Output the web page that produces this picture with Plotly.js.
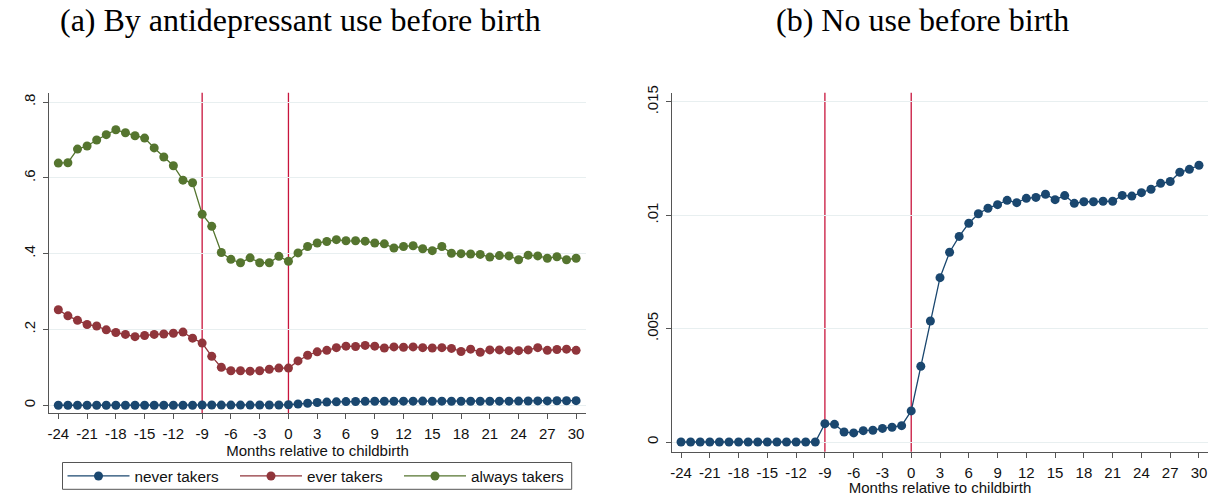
<!DOCTYPE html>
<html>
<head>
<meta charset="utf-8">
<script src="https://cdn.plot.ly/plotly-3.0.1.min.js"></script>
<style>html,body{margin:0;padding:0;background:#fff;}#chart{width:1225px;height:496px;}</style>
</head>
<body>
<div id="chart"></div>
<script>
// Months relative to childbirth
const months = [];
for (let m = -24; m <= 30; m++) months.push(m);

// Panel (a): by antidepressant use before birth
const alwaysTakers = [0.639,0.640,0.676,0.684,0.700,0.714,0.727,0.719,0.711,0.705,0.679,0.655,0.632,0.594,0.587,
  0.504,0.472,0.403,0.385,0.376,0.389,0.376,0.376,0.393,0.380,
  0.402,0.419,0.428,0.432,0.437,0.434,0.434,0.433,0.428,0.426,0.415,0.419,0.421,0.413,0.408,0.419,
  0.401,0.400,0.399,0.398,0.391,0.395,0.394,0.384,0.396,0.394,0.388,0.392,0.384,0.388];
const everTakers = [0.252,0.236,0.224,0.213,0.209,0.199,0.192,0.187,0.181,0.184,0.187,0.188,0.190,0.193,0.177,
  0.164,0.129,0.100,0.091,0.091,0.090,0.091,0.095,0.098,0.098,
  0.117,0.132,0.141,0.145,0.152,0.156,0.155,0.158,0.156,0.151,0.154,0.153,0.154,0.152,0.151,0.152,
  0.150,0.142,0.148,0.140,0.146,0.146,0.144,0.144,0.146,0.152,0.145,0.147,0.148,0.145];
// Panel (b): no use before birth (never takers)
const noUse = [0,0,0,0,0,0,0,0,0,0,0,0,0,0,0,
  0.00081,0.00078,0.00044,0.00040,0.00050,0.00052,0.00060,0.00065,0.00072,0.00137,
  0.00334,0.00534,0.00725,0.00837,0.00907,0.00965,0.01007,0.01031,0.01047,0.01066,0.01056,0.01075,0.01079,0.01093,0.01069,0.01087,
  0.01053,0.01060,0.01060,0.01062,0.01062,0.01088,0.01085,0.01100,0.01115,0.01141,0.01149,0.01190,0.01203,0.01221];
const neverTakers = noUse;

const xTicks = [-24,-21,-18,-15,-12,-9,-6,-3,0,3,6,9,12,15,18,21,24,27,30];
const xTickText = ['-24','-21','-18','-15','-12','-9','-6','-3','0','3','6','9','12','15','18','21','24','27','30'];
const yTicksA = [0,0.2,0.4,0.6,0.8];
const yTextA = ['0','.2','.4','.6','.8'];
const yTicksB = [0,0.005,0.01,0.015];
const yTextB = ['0','.005','.01','.015'];
const eventLines = [-9,0];

const NAVY='#1a476f', MAROON='#90353b', GREEN='#55752f', RED='#c8143c';

function tr(y, name, color, xa, ya, show, lg){
  return {x: months, y: y, name: name, type:'scatter', mode:'lines+markers',
    xaxis: xa, yaxis: ya, showlegend: show, legend: lg,
    line:{color: color, width:1.3}, marker:{color: color, size:9}};
}
const data = [
  tr(neverTakers,'never takers',NAVY,'x','y',true,'legend'),
  tr(everTakers,'ever takers',MAROON,'x','y',true,'legend2'),
  tr(alwaysTakers,'always takers',GREEN,'x','y',true,'legend3'),
  tr(noUse,'no use',NAVY,'x2','y2',false,'legend')
];

const tickFont = {family:'Liberation Sans, Arial, sans-serif', size:15, color:'#111'};
function xax(domain, anchor){
  return {domain: domain, anchor: anchor, range:[-24.94,31.0], tickvals: xTicks, ticktext: xTickText,
    ticks:'outside', ticklen:5, tickcolor:'#555', showline:true, linecolor:'#555', linewidth:1,
    showgrid:false, zeroline:false, tickfont: tickFont, ticklabelstandoff:2,
    title:{text:'Months relative to childbirth', font:{family:'Liberation Sans, Arial, sans-serif', size:15, color:'#111'}, standoff:0}};
}
function yax(domain, anchor, range, vals, txt){
  return {domain: domain, anchor: anchor, range: range, tickvals: vals, ticktext: txt, tickangle:-90,
    ticks:'outside', ticklen:5, tickcolor:'#555', showline:true, linecolor:'#555', linewidth:1,
    showgrid:true, gridcolor:'#e8eff0', gridwidth:1, zeroline:false, tickfont: tickFont, ticklabelstandoff:2};
}

const shapes = [];
eventLines.forEach(v => {
  shapes.push({type:'line', xref:'x', yref:'paper', x0:v, x1:v, y0:(496-413.3)/496, y1:(496-92.7)/496, line:{color:RED, width:1.3}, layer:'below'});
  shapes.push({type:'line', xref:'x2', yref:'paper', x0:v, x1:v, y0:(496-451.7)/496, y1:(496-92.7)/496, line:{color:RED, width:1.3}, layer:'below'});
});
// legend frame
shapes.push({type:'rect', xref:'paper', yref:'paper', x0:62.5/1225, x1:571.7/1225, y0:(496-489.3)/496, y1:(496-462.5)/496,
  line:{color:'#555', width:1}, fillcolor:'rgba(0,0,0,0)', layer:'above'});

const legFont = {family:'Liberation Sans, Arial, sans-serif', size:15.3, color:'#111'};
function leg(px){
  return {orientation:'h', x:px/1225, xanchor:'left', y:(496-476)/496, yanchor:'middle',
    borderwidth:0, bgcolor:'rgba(0,0,0,0)', itemwidth:62, font: legFont};
}

const layout = {
  width:1225, height:496, margin:{l:0,r:0,t:0,b:0},
  paper_bgcolor:'#fff', plot_bgcolor:'rgba(0,0,0,0)',
  xaxis: xax([49.3/1225, 585.7/1225], 'y'),
  yaxis: yax([(496-413.3)/496, (496-92.7)/496], 'x', [-0.0212, 0.8247], yTicksA, yTextA),
  xaxis2: Object.assign(xax([672/1225, 1208/1225], 'y2'), {range:[-24.94, 30.94]}),
  yaxis2: yax([(496-451.7)/496, (496-92.7)/496], 'x2', [-0.000428, 0.01541], yTicksB, yTextB),
  shapes: shapes,
  showlegend:true,
  legend: leg(62.5), legend2: leg(235), legend3: leg(399),
  annotations:[
    {text:'(a) By antidepressant use before birth', xref:'paper', yref:'paper', x:300/1225, y:(496-20)/496,
     xanchor:'center', yanchor:'middle', showarrow:false, font:{family:'Liberation Serif, Times New Roman, serif', size:32, color:'#000'}},
    {text:'(b) No use before birth', xref:'paper', yref:'paper', x:922/1225, y:(496-20)/496,
     xanchor:'center', yanchor:'middle', showarrow:false, font:{family:'Liberation Serif, Times New Roman, serif', size:32, color:'#000'}}
  ]
};
Plotly.newPlot('chart', data, layout, {displayModeBar:false, staticPlot:true});
</script>
</body>
</html>
